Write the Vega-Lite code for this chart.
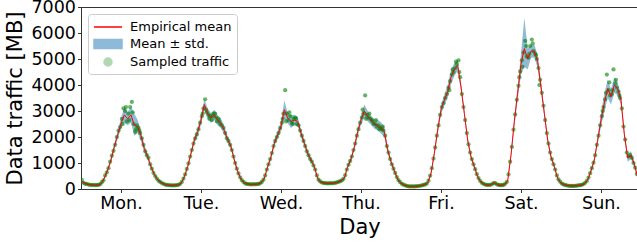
{
"$schema": "https://vega.github.io/schema/vega-lite/v6.json",
"width": 557, "height": 182,
"autosize": "none",
"padding": {"left": 81, "top": 7, "right": 0, "bottom": 54},
"config": {
 "font": "DejaVu Sans",
 "view": {"stroke": "#333", "strokeWidth": 1},
 "axis": {"grid": false, "domainColor": "#333", "tickColor": "#333", "tickSize": 3.5, "labelFontSize": 17.5, "titleFontSize": 21, "labelColor": "#000", "titleColor": "#000", "titleFontWeight": "normal", "labelPadding": 2, "labelOverlap": false},
 "axisX": {"titlePadding": 4},
 "axisY": {"titlePadding": 5},
 "legend": {"orient": "top-left", "offset": 7, "labelFontSize": 13, "labelColor": "#000", "labelFont": "DejaVu Sans", "padding": 5, "rowPadding": 2, "strokeColor": "#cccccc", "fillColor": "rgba(255,255,255,0.8)", "cornerRadius": 3}
},
"datasets": {
"mean": [
{"h":0,"m":300,"lo":240,"hi":360},{"h":1,"m":220,"lo":180,"hi":260},{"h":2,"m":180,"lo":150,"hi":210},{"h":3,"m":160,"lo":130,"hi":190},{"h":4,"m":150,"lo":120,"hi":180},{"h":5,"m":150,"lo":120,"hi":180},{"h":6,"m":190,"lo":150,"hi":230},{"h":7,"m":420,"lo":360,"hi":480},{"h":8,"m":730,"lo":650,"hi":810},{"h":9,"m":1120,"lo":1020,"hi":1220},{"h":10,"m":1630,"lo":1510,"hi":1750},{"h":11,"m":2080,"lo":1930,"hi":2230},{"h":12,"m":2520,"lo":2320,"hi":2720},{"h":13,"m":2850,"lo":2550,"hi":3150},{"h":14,"m":2700,"lo":2450,"hi":2950},{"h":15,"m":2850,"lo":2550,"hi":3150},{"h":16,"m":2450,"lo":2050,"hi":2900},{"h":17,"m":2400,"lo":2150,"hi":2650},{"h":18,"m":2050,"lo":1850,"hi":2250},{"h":19,"m":1550,"lo":1400,"hi":1700},{"h":20,"m":1240,"lo":1120,"hi":1360},{"h":21,"m":860,"lo":780,"hi":940},{"h":22,"m":560,"lo":500,"hi":620},{"h":23,"m":350,"lo":300,"hi":400},
{"h":24,"m":250,"lo":210,"hi":290},{"h":25,"m":180,"lo":150,"hi":210},{"h":26,"m":150,"lo":120,"hi":180},{"h":27,"m":140,"lo":110,"hi":170},{"h":28,"m":140,"lo":110,"hi":170},{"h":29,"m":150,"lo":120,"hi":180},{"h":30,"m":210,"lo":170,"hi":250},{"h":31,"m":470,"lo":410,"hi":530},{"h":32,"m":860,"lo":780,"hi":940},{"h":33,"m":1370,"lo":1270,"hi":1470},{"h":34,"m":1880,"lo":1760,"hi":2000},{"h":35,"m":2200,"lo":2050,"hi":2350},{"h":36,"m":2650,"lo":2470,"hi":2830},{"h":37,"m":3250,"lo":3050,"hi":3450},{"h":38,"m":2900,"lo":2700,"hi":3100},{"h":39,"m":2730,"lo":2550,"hi":2910},{"h":40,"m":2850,"lo":2650,"hi":3050},{"h":41,"m":2650,"lo":2450,"hi":2850},{"h":42,"m":2520,"lo":2340,"hi":2700},{"h":43,"m":2250,"lo":2100,"hi":2400},{"h":44,"m":1900,"lo":1770,"hi":2030},{"h":45,"m":1630,"lo":1510,"hi":1750},{"h":46,"m":1120,"lo":1020,"hi":1220},{"h":47,"m":670,"lo":600,"hi":740},
{"h":48,"m":380,"lo":330,"hi":430},{"h":49,"m":230,"lo":190,"hi":270},{"h":50,"m":190,"lo":160,"hi":220},{"h":51,"m":180,"lo":150,"hi":210},{"h":52,"m":180,"lo":150,"hi":210},{"h":53,"m":190,"lo":160,"hi":220},{"h":54,"m":230,"lo":190,"hi":270},{"h":55,"m":410,"lo":350,"hi":470},{"h":56,"m":860,"lo":780,"hi":940},{"h":57,"m":1240,"lo":1140,"hi":1340},{"h":58,"m":1760,"lo":1640,"hi":1880},{"h":59,"m":2080,"lo":1930,"hi":2230},{"h":60,"m":2400,"lo":2220,"hi":2580},{"h":61,"m":3050,"lo":2700,"hi":3400},{"h":62,"m":2730,"lo":2530,"hi":2930},{"h":63,"m":2600,"lo":2350,"hi":2850},{"h":64,"m":2650,"lo":2450,"hi":2850},{"h":65,"m":2600,"lo":2420,"hi":2780},{"h":66,"m":2150,"lo":2000,"hi":2300},{"h":67,"m":1760,"lo":1630,"hi":1890},{"h":68,"m":1370,"lo":1250,"hi":1490},{"h":69,"m":1120,"lo":1020,"hi":1220},{"h":70,"m":860,"lo":780,"hi":940},{"h":71,"m":410,"lo":350,"hi":470},
{"h":72,"m":260,"lo":220,"hi":300},{"h":73,"m":230,"lo":200,"hi":260},{"h":74,"m":220,"lo":190,"hi":250},{"h":75,"m":220,"lo":190,"hi":250},{"h":76,"m":230,"lo":200,"hi":260},{"h":77,"m":260,"lo":220,"hi":300},{"h":78,"m":310,"lo":270,"hi":350},{"h":79,"m":420,"lo":360,"hi":480},{"h":80,"m":860,"lo":780,"hi":940},{"h":81,"m":1150,"lo":1050,"hi":1250},{"h":82,"m":1600,"lo":1480,"hi":1720},{"h":83,"m":2200,"lo":2050,"hi":2350},{"h":84,"m":2650,"lo":2470,"hi":2830},{"h":85,"m":3000,"lo":2750,"hi":3250},{"h":86,"m":2800,"lo":2600,"hi":3000},{"h":87,"m":2650,"lo":2470,"hi":2830},{"h":88,"m":2500,"lo":2320,"hi":2680},{"h":89,"m":2450,"lo":2250,"hi":2650},{"h":90,"m":2350,"lo":2130,"hi":2570},{"h":91,"m":2200,"lo":2000,"hi":2400},{"h":92,"m":1500,"lo":1370,"hi":1630},{"h":93,"m":1050,"lo":950,"hi":1150},{"h":94,"m":700,"lo":620,"hi":780},{"h":95,"m":380,"lo":320,"hi":440},
{"h":96,"m":220,"lo":180,"hi":260},{"h":97,"m":150,"lo":120,"hi":180},{"h":98,"m":110,"lo":85,"hi":135},{"h":99,"m":100,"lo":75,"hi":125},{"h":100,"m":100,"lo":75,"hi":125},{"h":101,"m":110,"lo":85,"hi":135},{"h":102,"m":130,"lo":100,"hi":160},{"h":103,"m":160,"lo":130,"hi":190},{"h":104,"m":230,"lo":190,"hi":270},{"h":105,"m":600,"lo":520,"hi":680},{"h":106,"m":1370,"lo":1250,"hi":1490},{"h":107,"m":2270,"lo":2120,"hi":2420},{"h":108,"m":3040,"lo":2860,"hi":3220},{"h":109,"m":3420,"lo":3220,"hi":3620},{"h":110,"m":3750,"lo":3500,"hi":4000},{"h":111,"m":4300,"lo":4020,"hi":4580},{"h":112,"m":4600,"lo":4350,"hi":4850},{"h":113,"m":4750,"lo":4550,"hi":4950},{"h":114,"m":3930,"lo":3780,"hi":4080},{"h":115,"m":2910,"lo":2780,"hi":3040},{"h":116,"m":1880,"lo":1760,"hi":2000},{"h":117,"m":1240,"lo":1140,"hi":1340},{"h":118,"m":860,"lo":780,"hi":940},{"h":119,"m":470,"lo":410,"hi":530},
{"h":120,"m":260,"lo":220,"hi":300},{"h":121,"m":180,"lo":150,"hi":210},{"h":122,"m":150,"lo":120,"hi":180},{"h":123,"m":160,"lo":130,"hi":190},{"h":124,"m":250,"lo":210,"hi":290},{"h":125,"m":160,"lo":130,"hi":190},{"h":126,"m":140,"lo":110,"hi":170},{"h":127,"m":160,"lo":130,"hi":190},{"h":128,"m":310,"lo":260,"hi":360},{"h":129,"m":1300,"lo":1180,"hi":1420},{"h":130,"m":2600,"lo":2420,"hi":2780},{"h":131,"m":3700,"lo":3450,"hi":3950},{"h":132,"m":4800,"lo":4400,"hi":5200},{"h":133,"m":5400,"lo":4700,"hi":6600},{"h":134,"m":5000,"lo":4600,"hi":5400},{"h":135,"m":5300,"lo":5050,"hi":5550},{"h":136,"m":5300,"lo":5050,"hi":5550},{"h":137,"m":4900,"lo":4650,"hi":5150},{"h":138,"m":3930,"lo":3730,"hi":4130},{"h":139,"m":2910,"lo":2760,"hi":3060},{"h":140,"m":1880,"lo":1750,"hi":2010},{"h":141,"m":1240,"lo":1140,"hi":1340},{"h":142,"m":860,"lo":780,"hi":940},{"h":143,"m":410,"lo":350,"hi":470},
{"h":144,"m":230,"lo":190,"hi":270},{"h":145,"m":160,"lo":130,"hi":190},{"h":146,"m":130,"lo":100,"hi":160},{"h":147,"m":120,"lo":90,"hi":150},{"h":148,"m":120,"lo":90,"hi":150},{"h":149,"m":130,"lo":100,"hi":160},{"h":150,"m":150,"lo":120,"hi":180},{"h":151,"m":200,"lo":160,"hi":240},{"h":152,"m":350,"lo":300,"hi":400},{"h":153,"m":700,"lo":620,"hi":780},{"h":154,"m":1115,"lo":1015,"hi":1215},{"h":155,"m":1880,"lo":1730,"hi":2030},{"h":156,"m":2650,"lo":2400,"hi":2900},{"h":157,"m":3310,"lo":2960,"hi":3660},{"h":158,"m":3860,"lo":3510,"hi":4210},{"h":159,"m":3550,"lo":3250,"hi":3850},{"h":160,"m":4000,"lo":3700,"hi":4300},{"h":161,"m":3860,"lo":3610,"hi":4110},{"h":162,"m":3420,"lo":3220,"hi":3620},{"h":163,"m":2100,"lo":1950,"hi":2250},{"h":164,"m":1200,"lo":1050,"hi":1350},{"h":165,"m":1300,"lo":1150,"hi":1450},{"h":166,"m":950,"lo":830,"hi":1070},{"h":167,"m":450,"lo":370,"hi":530}
],
"samples": [
{"t":0.25,"v":350},{"t":0.75,"v":240},{"t":1.25,"v":200},{"t":1.75,"v":195},{"t":2.25,"v":170},{"t":2.75,"v":160},{"t":3.25,"v":150},{"t":3.75,"v":160},{"t":4.25,"v":145},{"t":4.75,"v":155},{"t":5.25,"v":155},{"t":5.75,"v":185},{"t":6.25,"v":260},{"t":6.75,"v":330},{"t":7.25,"v":520},{"t":7.75,"v":640},{"t":8.25,"v":800},{"t":8.75,"v":1050},{"t":9.25,"v":1280},{"t":9.75,"v":1470},{"t":10.25,"v":1700},{"t":10.75,"v":2000},{"t":11.25,"v":2250},{"t":11.75,"v":2380},{"t":12.25,"v":2700},{"t":12.75,"v":3100},{"t":13.25,"v":3000},{"t":13.75,"v":2600},{"t":14.25,"v":2900},{"t":14.75,"v":3150},{"t":15.25,"v":3350},{"t":15.75,"v":2500},{"t":16.25,"v":2200},{"t":16.75,"v":2450},{"t":17.25,"v":2350},{"t":17.75,"v":2150},{"t":18.25,"v":1950},{"t":18.75,"v":1700},{"t":19.25,"v":1450},{"t":19.75,"v":1300},{"t":20.25,"v":1200},{"t":20.75,"v":950},{"t":21.25,"v":780},{"t":21.75,"v":620},{"t":22.25,"v":500},{"t":22.75,"v":400},{"t":23.25,"v":320},{"t":23.75,"v":270},
{"t":24.25,"v":230},{"t":24.75,"v":200},{"t":25.25,"v":170},{"t":25.75,"v":155},{"t":26.25,"v":150},{"t":26.75,"v":140},{"t":27.25,"v":140},{"t":27.75,"v":135},{"t":28.25,"v":140},{"t":28.75,"v":150},{"t":29.25,"v":160},{"t":29.75,"v":200},{"t":30.25,"v":270},{"t":30.75,"v":400},{"t":31.25,"v":560},{"t":31.75,"v":770},{"t":32.25,"v":990},{"t":32.75,"v":1250},{"t":33.25,"v":1500},{"t":33.75,"v":1750},{"t":34.25,"v":1950},{"t":34.75,"v":2100},{"t":35.25,"v":2300},{"t":35.75,"v":2550},{"t":36.25,"v":2800},{"t":36.75,"v":3100},{"t":37.25,"v":3450},{"t":37.75,"v":2950},{"t":38.25,"v":2850},{"t":38.75,"v":2800},{"t":39.25,"v":2650},{"t":39.75,"v":2900},{"t":40.25,"v":2900},{"t":40.75,"v":2600},{"t":41.25,"v":2700},{"t":41.75,"v":2500},{"t":42.25,"v":2450},{"t":42.75,"v":2350},{"t":43.25,"v":2150},{"t":43.75,"v":1950},{"t":44.25,"v":1850},{"t":44.75,"v":1700},{"t":45.25,"v":1500},{"t":45.75,"v":1250},{"t":46.25,"v":1000},{"t":46.75,"v":780},{"t":47.25,"v":600},{"t":47.75,"v":450},
{"t":48.25,"v":340},{"t":48.75,"v":270},{"t":49.25,"v":215},{"t":49.75,"v":200},{"t":50.25,"v":185},{"t":50.75,"v":180},{"t":51.25,"v":175},{"t":51.75,"v":185},{"t":52.25,"v":180},{"t":52.75,"v":185},{"t":53.25,"v":195},{"t":53.75,"v":220},{"t":54.25,"v":270},{"t":54.75,"v":360},{"t":55.25,"v":520},{"t":55.75,"v":750},{"t":56.25,"v":950},{"t":56.75,"v":1150},{"t":57.25,"v":1380},{"t":57.75,"v":1650},{"t":58.25,"v":1850},{"t":58.75,"v":2000},{"t":59.25,"v":2150},{"t":59.75,"v":2350},{"t":60.25,"v":2550},{"t":60.75,"v":2900},{"t":61.25,"v":3800},{"t":61.75,"v":2900},{"t":62.25,"v":2650},{"t":62.75,"v":2800},{"t":63.25,"v":2550},{"t":63.75,"v":2700},{"t":64.25,"v":2750},{"t":64.75,"v":2500},{"t":65.25,"v":2450},{"t":65.75,"v":2250},{"t":66.25,"v":2050},{"t":66.75,"v":1850},{"t":67.25,"v":1650},{"t":67.75,"v":1450},{"t":68.25,"v":1300},{"t":68.75,"v":1150},{"t":69.25,"v":1050},{"t":69.75,"v":900},{"t":70.25,"v":750},{"t":70.75,"v":520},{"t":71.25,"v":360},{"t":71.75,"v":290},
{"t":72.25,"v":250},{"t":72.75,"v":235},{"t":73.25,"v":225},{"t":73.75,"v":220},{"t":74.25,"v":215},{"t":74.75,"v":225},{"t":75.25,"v":220},{"t":75.75,"v":230},{"t":76.25,"v":235},{"t":76.75,"v":255},{"t":77.25,"v":270},{"t":77.75,"v":300},{"t":78.25,"v":330},{"t":78.75,"v":390},{"t":79.25,"v":530},{"t":79.75,"v":750},{"t":80.25,"v":930},{"t":80.75,"v":1080},{"t":81.25,"v":1250},{"t":81.75,"v":1500},{"t":82.25,"v":1750},{"t":82.75,"v":2050},{"t":83.25,"v":2300},{"t":83.75,"v":2550},{"t":84.25,"v":2750},{"t":84.75,"v":2900},{"t":85.25,"v":3600},{"t":85.75,"v":2850},{"t":86.25,"v":2750},{"t":86.75,"v":2700},{"t":87.25,"v":2650},{"t":87.75,"v":2500},{"t":88.25,"v":2500},{"t":88.75,"v":2400},{"t":89.25,"v":2450},{"t":89.75,"v":2350},{"t":90.25,"v":2300},{"t":90.75,"v":2250},{"t":91.25,"v":2050},{"t":91.75,"v":1650},{"t":92.25,"v":1400},{"t":92.75,"v":1150},{"t":93.25,"v":950},{"t":93.75,"v":780},{"t":94.25,"v":620},{"t":94.75,"v":460},{"t":95.25,"v":340},{"t":95.75,"v":260},
{"t":96.25,"v":200},{"t":96.75,"v":165},{"t":97.25,"v":140},{"t":97.75,"v":120},{"t":98.25,"v":105},{"t":98.75,"v":100},{"t":99.25,"v":100},{"t":99.75,"v":100},{"t":100.25,"v":100},{"t":100.75,"v":110},{"t":101.25,"v":115},{"t":101.75,"v":125},{"t":102.25,"v":135},{"t":102.75,"v":155},{"t":103.25,"v":175},{"t":103.75,"v":210},{"t":104.25,"v":320},{"t":104.75,"v":510},{"t":105.25,"v":800},{"t":105.75,"v":1170},{"t":106.25,"v":1600},{"t":106.75,"v":2050},{"t":107.25,"v":2450},{"t":107.75,"v":2850},{"t":108.25,"v":3150},{"t":108.75,"v":3300},{"t":109.25,"v":3500},{"t":109.75,"v":3650},{"t":110.25,"v":3900},{"t":110.75,"v":4150},{"t":111.25,"v":4400},{"t":111.75,"v":4500},{"t":112.25,"v":4650},{"t":112.75,"v":4800},{"t":113.25,"v":4950},{"t":113.75,"v":4300},{"t":114.25,"v":3650},{"t":114.75,"v":3150},{"t":115.25,"v":2650},{"t":115.75,"v":2150},{"t":116.25,"v":1720},{"t":116.75,"v":1400},{"t":117.25,"v":1150},{"t":117.75,"v":950},{"t":118.25,"v":760},{"t":118.75,"v":570},{"t":119.25,"v":420},{"t":119.75,"v":310},
{"t":120.25,"v":240},{"t":120.75,"v":200},{"t":121.25,"v":170},{"t":121.75,"v":155},{"t":122.25,"v":150},{"t":122.75,"v":160},{"t":123.25,"v":180},{"t":123.75,"v":230},{"t":124.25,"v":230},{"t":124.75,"v":180},{"t":125.25,"v":155},{"t":125.75,"v":145},{"t":126.25,"v":145},{"t":126.75,"v":155},{"t":127.25,"v":200},{"t":127.75,"v":270},{"t":128.25,"v":560},{"t":128.75,"v":1050},{"t":129.25,"v":1620},{"t":129.75,"v":2280},{"t":130.25,"v":2870},{"t":130.75,"v":3430},{"t":131.25,"v":3970},{"t":131.75,"v":4520},{"t":132.25,"v":4950},{"t":132.75,"v":5250},{"t":133.25,"v":5700},{"t":133.75,"v":5100},{"t":134.25,"v":5050},{"t":134.75,"v":5500},{"t":135.25,"v":5750},{"t":135.75,"v":5300},{"t":136.25,"v":5200},{"t":136.75,"v":5000},{"t":137.25,"v":4650},{"t":137.75,"v":4200},{"t":138.25,"v":3700},{"t":138.75,"v":3200},{"t":139.25,"v":2650},{"t":139.75,"v":2150},{"t":140.25,"v":1750},{"t":140.75,"v":1400},{"t":141.25,"v":1150},{"t":141.75,"v":950},{"t":142.25,"v":750},{"t":142.75,"v":520},{"t":143.25,"v":370},{"t":143.75,"v":280},
{"t":144.25,"v":210},{"t":144.75,"v":175},{"t":145.25,"v":150},{"t":145.75,"v":140},{"t":146.25,"v":125},{"t":146.75,"v":120},{"t":147.25,"v":120},{"t":147.75,"v":120},{"t":148.25,"v":120},{"t":148.75,"v":130},{"t":149.25,"v":135},{"t":149.75,"v":145},{"t":150.25,"v":160},{"t":150.75,"v":190},{"t":151.25,"v":240},{"t":151.75,"v":310},{"t":152.25,"v":440},{"t":152.75,"v":610},{"t":153.25,"v":800},{"t":153.75,"v":1010},{"t":154.25,"v":1300},{"t":154.75,"v":1700},{"t":155.25,"v":2050},{"t":155.75,"v":2450},{"t":156.25,"v":2800},{"t":156.75,"v":3150},{"t":157.25,"v":3450},{"t":157.75,"v":4400},{"t":158.25,"v":3800},{"t":158.75,"v":3600},{"t":159.25,"v":3650},{"t":159.75,"v":4600},{"t":160.25,"v":4050},{"t":160.75,"v":3900},{"t":161.25,"v":3750},{"t":161.75,"v":3500},{"t":162.25,"v":3100},{"t":162.75,"v":2400},{"t":163.25,"v":1900},{"t":163.75,"v":1400},{"t":164.25,"v":1250},{"t":164.75,"v":1300},{"t":165.25,"v":1200},{"t":165.75,"v":1000},{"t":166.25,"v":820},{"t":166.75,"v":580},
{"t":12.5,"v":2500},{"t":13.5,"v":3150},{"t":14.5,"v":2650},{"t":15.5,"v":2950},{"t":16.5,"v":2300},{"t":17.5,"v":2250},
{"t":36.5,"v":2900},{"t":37.5,"v":3050},{"t":38.5,"v":2700},{"t":39.5,"v":2800},{"t":40.5,"v":2750},{"t":41.5,"v":2600},
{"t":60.5,"v":2700},{"t":61.5,"v":2600},{"t":62.5,"v":2950},{"t":63.5,"v":2500},{"t":64.5,"v":2700},
{"t":84.5,"v":3050},{"t":85.5,"v":2700},{"t":86.5,"v":2900},{"t":87.5,"v":2600},{"t":88.5,"v":2650},{"t":89.5,"v":2300},{"t":90.5,"v":2400},
{"t":110.5,"v":3800},{"t":111.5,"v":4600},{"t":112.5,"v":4900},{"t":113.5,"v":4500},
{"t":131.5,"v":4300},{"t":132.5,"v":4700},{"t":133.5,"v":5500},{"t":134.5,"v":5200},{"t":135.5,"v":5600},{"t":136.5,"v":5150},{"t":137.5,"v":4000},
{"t":156.5,"v":3000},{"t":157.5,"v":3700},{"t":158.5,"v":4100},{"t":159.5,"v":3800},{"t":160.5,"v":4200},{"t":161.5,"v":3600}
]
},
"layer": [
 {
  "data": {"name": "mean"},
  "mark": {"type": "area", "opacity": 0.5, "clip": true},
  "encoding": {
   "x": {"field": "h", "type": "quantitative", "title": "Day", "scale": {"domain": [0, 167.1], "nice": false, "zero": false},
         "axis": {"values": [12, 36, 60, 84, 108, 132, 156], "labelExpr": "['Mon.','Tue.','Wed.','Thu.','Fri.','Sat.','Sun.'][floor(datum.value/24)]"}},
   "y": {"field": "lo", "type": "quantitative", "title": "Data traffic [MB]", "scale": {"domain": [0, 7000], "nice": false},
         "axis": {"values": [0, 1000, 2000, 3000, 4000, 5000, 6000, 7000], "format": "d", "labelOverlap": false}},
   "y2": {"field": "hi"},
   "color": {"datum": "Mean ± std.", "type": "nominal",
     "scale": {"domain": ["Empirical mean", "Mean ± std.", "Sampled traffic"], "range": ["#ff0000", "#1f77b4", "#008000"]},
     "legend": {"title": null, "symbolSize": 196, "labelOffset": 21, "labelFontSize": 13, "rowPadding": 2,
       "encode": {"symbols": {"update": {
         "shape": [{"test": "datum.value === 'Empirical mean'", "value": "M-1,0H3"}, {"test": "datum.value === 'Mean ± std.'", "value": "M-1,-0.65H3V0.65H-1Z"}, {"value": "M0.43,0A0.57,0.57 0 1,0 1.57,0A0.57,0.57 0 1,0 0.43,0Z"}],
         "fill": [{"test": "datum.value === 'Empirical mean'", "value": "transparent"}, {"test": "datum.value === 'Mean ± std.'", "value": "#1f77b4"}, {"value": "#008000"}],
         "stroke": [{"test": "datum.value === 'Empirical mean'", "value": "#ff0000"}, {"value": "transparent"}],
         "strokeWidth": {"value": 1.5},
         "fillOpacity": {"value": 1},
         "strokeOpacity": {"value": 1},
         "opacity": [{"test": "datum.value === 'Sampled traffic'", "value": 0.3}, {"test": "datum.value === 'Mean ± std.'", "value": 0.5}, {"value": 1}]
       }}}}}
  }
 },
 {
  "data": {"name": "samples"},
  "mark": {"type": "point", "filled": true, "size": 18, "opacity": 0.6, "clip": true},
  "encoding": {
   "x": {"field": "t", "type": "quantitative", "title": "Day", "axis": {"values": [12, 36, 60, 84, 108, 132, 156], "labelExpr": "['Mon.','Tue.','Wed.','Thu.','Fri.','Sat.','Sun.'][floor(datum.value/24)]"}},
   "y": {"field": "v", "type": "quantitative", "title": "Data traffic [MB]", "axis": {"values": [0, 1000, 2000, 3000, 4000, 5000, 6000, 7000], "format": "d", "labelOverlap": false}},
   "color": {"datum": "Sampled traffic", "type": "nominal",
     "legend": {"title": null, "symbolSize": 196, "labelOffset": 21, "labelFontSize": 13, "rowPadding": 2,
       "encode": {"symbols": {"update": {
         "shape": [{"test": "datum.value === 'Empirical mean'", "value": "M-1,0H3"}, {"test": "datum.value === 'Mean ± std.'", "value": "M-1,-0.65H3V0.65H-1Z"}, {"value": "M0.43,0A0.57,0.57 0 1,0 1.57,0A0.57,0.57 0 1,0 0.43,0Z"}],
         "fill": [{"test": "datum.value === 'Empirical mean'", "value": "transparent"}, {"test": "datum.value === 'Mean ± std.'", "value": "#1f77b4"}, {"value": "#008000"}],
         "stroke": [{"test": "datum.value === 'Empirical mean'", "value": "#ff0000"}, {"value": "transparent"}],
         "strokeWidth": {"value": 1.5},
         "fillOpacity": {"value": 1},
         "strokeOpacity": {"value": 1},
         "opacity": [{"test": "datum.value === 'Sampled traffic'", "value": 0.3}, {"test": "datum.value === 'Mean ± std.'", "value": 0.5}, {"value": 1}]
       }}}}}
  }
 },
 {
  "data": {"name": "mean"},
  "mark": {"type": "line", "strokeWidth": 1, "clip": true},
  "encoding": {
   "x": {"field": "h", "type": "quantitative", "title": "Day", "axis": {"values": [12, 36, 60, 84, 108, 132, 156], "labelExpr": "['Mon.','Tue.','Wed.','Thu.','Fri.','Sat.','Sun.'][floor(datum.value/24)]"}},
   "y": {"field": "m", "type": "quantitative", "title": "Data traffic [MB]", "axis": {"values": [0, 1000, 2000, 3000, 4000, 5000, 6000, 7000], "format": "d", "labelOverlap": false}},
   "color": {"datum": "Empirical mean", "type": "nominal",
     "legend": {"title": null, "symbolSize": 196, "labelOffset": 21, "labelFontSize": 13, "rowPadding": 2,
       "encode": {"symbols": {"update": {
         "shape": [{"test": "datum.value === 'Empirical mean'", "value": "M-1,0H3"}, {"test": "datum.value === 'Mean ± std.'", "value": "M-1,-0.65H3V0.65H-1Z"}, {"value": "M0.43,0A0.57,0.57 0 1,0 1.57,0A0.57,0.57 0 1,0 0.43,0Z"}],
         "fill": [{"test": "datum.value === 'Empirical mean'", "value": "transparent"}, {"test": "datum.value === 'Mean ± std.'", "value": "#1f77b4"}, {"value": "#008000"}],
         "stroke": [{"test": "datum.value === 'Empirical mean'", "value": "#ff0000"}, {"value": "transparent"}],
         "strokeWidth": {"value": 1.5},
         "fillOpacity": {"value": 1},
         "strokeOpacity": {"value": 1},
         "opacity": [{"test": "datum.value === 'Sampled traffic'", "value": 0.3}, {"test": "datum.value === 'Mean ± std.'", "value": 0.5}, {"value": 1}]
       }}}}}
  }
 }
]
}
